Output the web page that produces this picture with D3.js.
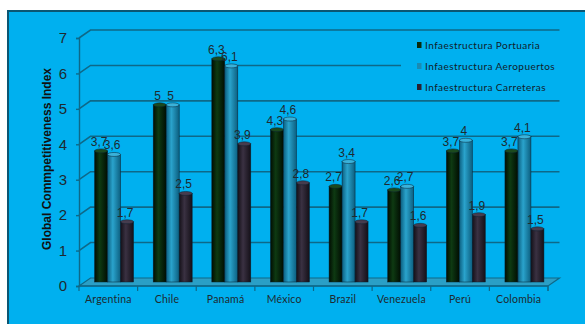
<!DOCTYPE html>
<html>
<head>
<meta charset="utf-8">
<script src="https://cdn.jsdelivr.net/npm/d3@7"></script>
<style>
  body { margin: 0; background: #fff; }
  svg { display: block; }
</style>
</head>
<body>
<div id="chart"></div>
<script>
// data
var categories = ["Argentina", "Chile", "Panamá", "México", "Brazil", "Venezuela", "Perú", "Colombia"];
var seriesNames = ["Infaestructura Portuaria", "Infaestructura Aeropuertos", "Infaestructura Carreteras"];
var portuaria = [3.7, 5, 6.3, 4.3, 2.7, 2.6, 3.7, 3.7];
var aeropuertos = [3.6, 5, 6.1, 4.6, 3.4, 2.7, 4, 4.1];
var carreteras = [1.7, 2.5, 3.9, 2.8, 1.7, 1.6, 1.9, 1.5];
var yTicks = [0, 1, 2, 3, 4, 5, 6, 7];

var seriesValues = [portuaria, aeropuertos, carreteras];
var colors = [
  {edge: "#010d02", mid: "#0e3a12", top: "#1b4a1e", key: "#0a2a0c"},
  {edge: "#0c5f80", mid: "#2aa3cc", top: "#3ab2da", key: "#1b8ab2"},
  {edge: "#141018", mid: "#3a3142", top: "#463c4e", key: "#2a2030"}
];

var W = 585, H = 324;
var dx = 11.5, dy = -8;   // depth of the 3d walls

var svg = d3.select("#chart").append("svg")
    .attr("width", W)
    .attr("height", H);

// chart area background
svg.append("rect")
    .attr("x", 8).attr("y", 11)
    .attr("width", 600).attr("height", 330)
    .attr("fill", "#00b0ef")
    .attr("stroke", "#0b5673")
    .attr("stroke-width", 2);

var y = d3.scaleLinear().domain([0, 7]).range([286, 38]);
var x0 = d3.scaleBand().domain(categories).range([79, 548]);
var groupW = 39;
var x1 = d3.scaleBand().domain(seriesNames).range([0, groupW]);

var gridColor = "#0e6888";

// back wall gridlines
svg.append("g").selectAll("path")
    .data(yTicks.filter(t => t > 0))
    .enter().append("path")
    .attr("d", t => "M" + x0.range()[0] + "," + y(t) +
                   "L" + (x0.range()[0] + dx) + "," + (y(t) + dy) +
                   "L" + (x0.range()[1] + dx) + "," + (y(t) + dy))
    .attr("fill", "none")
    .attr("stroke", gridColor)
    .attr("stroke-width", 1.6);

// floor
var fx0 = x0.range()[0], fx1 = x0.range()[1], fy = y(0);
svg.append("path")
    .attr("d", "M" + fx0 + "," + fy + "L" + (fx0 + dx) + "," + (fy + dy) +
               "L" + (fx1 + dx) + "," + (fy + dy) + "L" + fx1 + "," + fy + "Z")
    .attr("fill", "#2a9fc6")
    .attr("stroke", gridColor)
    .attr("stroke-width", 1.2);
svg.append("line")
    .attr("x1", fx1).attr("x2", fx1)
    .attr("y1", fy).attr("y2", fy + 5)
    .attr("stroke", gridColor);

// legend box hides part of the gridline behind it
svg.append("rect")
    .attr("x", 401).attr("y", 34)
    .attr("width", 168).attr("height", 63)
    .attr("fill", "#00b0ef");

// gradients for cylinder-like bars
var defs = svg.append("defs");
colors.forEach(function(c, i) {
  var g = defs.append("linearGradient")
      .attr("id", "grad" + i)
      .attr("x1", "0%").attr("x2", "100%")
      .attr("y1", "0%").attr("y2", "0%");
  g.append("stop").attr("offset", "0%").attr("stop-color", c.edge);
  g.append("stop").attr("offset", "40%").attr("stop-color", c.mid);
  g.append("stop").attr("offset", "100%").attr("stop-color", c.edge);
});

// bars
var bw = x1.bandwidth();
var off = (x0.bandwidth() - groupW) / 2 + dx / 2;
var groups = svg.append("g").selectAll("g")
    .data(categories)
    .enter().append("g")
    .attr("transform", c => "translate(" + (x0(c) + off) + "," + (dy / 2) + ")");

groups.each(function(c, ci) {
  var g = d3.select(this);
  seriesNames.forEach(function(s, si) {
    var v = seriesValues[si][ci];
    var bx = x1(s);
    g.append("rect")
        .attr("x", bx)
        .attr("y", y(v))
        .attr("width", bw)
        .attr("height", y(0) - y(v))
        .attr("fill", "url(#grad" + si + ")")
        .attr("stroke", "#0a2030")
        .attr("stroke-width", 0.5);
    g.append("ellipse")
        .attr("cx", bx + bw / 2)
        .attr("cy", y(v))
        .attr("rx", bw / 2)
        .attr("ry", 2)
        .attr("fill", colors[si].top)
        .attr("stroke", "#0a2030")
        .attr("stroke-width", 0.5);
    g.append("text")
        .attr("x", bx + bw / 2 - 2)
        .attr("y", y(v) - 5)
        .attr("text-anchor", "middle")
        .attr("font-family", "Liberation Sans, Arial, sans-serif")
        .attr("font-size", 12)
        .attr("fill", "#1e2a30")
        .text(String(v).replace(".", ","));
  });
});

// Y axis
var yAxis = svg.append("g")
    .attr("transform", "translate(79,0)")
    .call(d3.axisLeft(y).tickValues(yTicks).tickFormat(d3.format("d")).tickSize(3).tickPadding(9));
yAxis.select(".domain").attr("stroke", gridColor).attr("stroke-width", 1.4);
yAxis.selectAll(".tick line").attr("stroke", gridColor).attr("stroke-width", 1.4);
yAxis.selectAll("text")
    .attr("font-family", "Liberation Sans, Arial, sans-serif")
    .attr("font-size", 15)
    .attr("fill", "#1e2a30");

// X axis labels
var xAxis = svg.append("g")
    .attr("transform", "translate(0," + y(0) + ")")
    .call(d3.axisBottom(x0).tickSize(0).tickPadding(10));
xAxis.select(".domain").remove();
xAxis.selectAll("text")
    .attr("font-family", "Lato, sans-serif")
    .attr("font-size", 10.5)
    .attr("letter-spacing", 0.2)
    .attr("fill", "#1e2a30");

// category separators
svg.append("g").selectAll("line")
    .data(categories.map(c => x0(c)).concat([x0.range()[1]]))
    .enter().append("line")
    .attr("x1", d => d).attr("x2", d => d)
    .attr("y1", y(0)).attr("y2", y(0) + 5)
    .attr("stroke", gridColor)
    .attr("stroke-width", 1.2);
svg.append("line")
    .attr("x1", fx0).attr("x2", fx1)
    .attr("y1", y(0)).attr("y2", y(0))
    .attr("stroke", gridColor)
    .attr("stroke-width", 1.4);

// Y title
svg.append("text")
    .attr("transform", "translate(51,159) rotate(-90)")
    .attr("text-anchor", "middle")
    .attr("font-family", "Liberation Sans, Arial, sans-serif")
    .attr("font-weight", "bold")
    .attr("font-size", 12)
    .attr("fill", "#111")
    .text("Global Commpetitiveness Index");

// legend
var legend = svg.append("g").selectAll("g")
    .data(seriesNames)
    .enter().append("g")
    .attr("transform", (d, i) => "translate(417," + (45 + i * 21) + ")");
legend.append("rect")
    .attr("x", 0).attr("y", -3)
    .attr("width", 4.5).attr("height", 6)
    .attr("fill", (d, i) => colors[i].key);
legend.append("text")
    .attr("x", 8)
    .attr("y", 0)
    .attr("dy", "0.35em")
    .attr("font-family", "Lato, sans-serif")
    .attr("font-size", 10)
    .attr("letter-spacing", 0.45)
    .attr("fill", "#10202a")
    .text(d => d);
</script>
</body>
</html>
